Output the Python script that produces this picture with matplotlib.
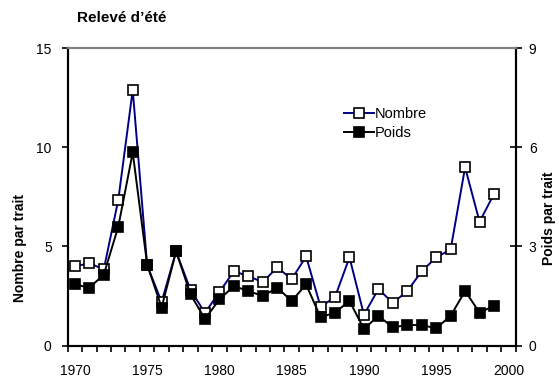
import matplotlib
matplotlib.use("Agg")
import matplotlib.pyplot as plt
import numpy as np

plt.rcParams['font.family'] = ['Liberation Sans', 'DejaVu Sans']

# DATA
years = list(range(1970, 2000))
nombre = [4.0, 4.15, 3.85, 7.35, 12.9, 4.05, 2.2, 4.75, 2.8, 1.65, 2.7,
          3.75, 3.5, 3.2, 3.95, 3.35, 4.5, 1.95, 2.45, 4.45,
          1.55, 2.85, 2.15, 2.75, 3.75, 4.45, 4.85, 9.0, 6.25, 7.65]
poids = [1.85, 1.75, 2.15, 3.6, 5.85, 2.45, 1.15, 2.85, 1.55, 0.8, 1.4,
         1.8, 1.65, 1.5, 1.75, 1.35, 1.85, 0.85, 1.0, 1.35,
         0.5, 0.9, 0.55, 0.62, 0.62, 0.52, 0.9, 1.65, 1.0, 1.2]
xticks = [1970, 1975, 1980, 1985, 1990, 1995, 2000]

fig = plt.figure(figsize=(5.59, 3.83), dpi=100)
ax1 = fig.add_axes([0.1211, 0.0979, 0.8014, 0.7755])
ax2 = ax1.twinx()

l1, = ax1.plot(years, nombre, color='#000080', lw=1.4, marker='s', ms=7.3,
               mfc='white', mec='black', mew=1.2, label='Nombre')
l2, = ax2.plot(years, poids, color='black', lw=1.4, marker='s', ms=7.3,
               mfc='black', mec='black', mew=1.2, label='Poids')

ax1.set_xlim(1969.5, 2000.5)
ax1.set_ylim(0, 15)
ax2.set_ylim(0, 9)
ax1.set_yticks([0, 5, 10, 15])
ax2.set_yticks([0, 3, 6, 9])
ax1.set_xticks(xticks)
ax1.set_xticks(np.arange(1969.5, 2001, 1), minor=True)

ax1.tick_params(axis='x', which='major', length=0, pad=13, labelsize=10)
ax1.tick_params(axis='x', which='minor', length=4, width=1.2, direction='out')
ax1.tick_params(axis='y', length=4.5, width=1.2, direction='out', pad=7, labelsize=10)
ax2.tick_params(axis='y', length=9, width=1.2, direction='inout', pad=5, labelsize=10)

for ax in (ax1, ax2):
    for s in ('left', 'right', 'bottom'):
        ax.spines[s].set_linewidth(1.5)
        ax.spines[s].set_color('black')
    ax.spines['top'].set_color('#808080')
    ax.spines['top'].set_linewidth(1.5)

fig.text(0.138, 0.953, "Relevé d’été", fontsize=11, fontweight='bold',
         ha='left', va='center')
fig.text(0.036, 0.352, "Nombre par trait", fontsize=10, fontweight='bold',
         rotation=90, ha='center', va='center')
fig.text(0.982, 0.431, "Poids par trait", fontsize=10, fontweight='bold',
         rotation=90, ha='center', va='center')

ax2.legend(handles=[l1, l2], loc='upper left', bbox_to_anchor=(0.602, 0.74),
           bbox_transform=fig.transFigure, frameon=False, fontsize=10.5,
           handlelength=2.05, handletextpad=0.05, borderpad=0, labelspacing=0.35)

fig.savefig("out.png", dpi=100)
